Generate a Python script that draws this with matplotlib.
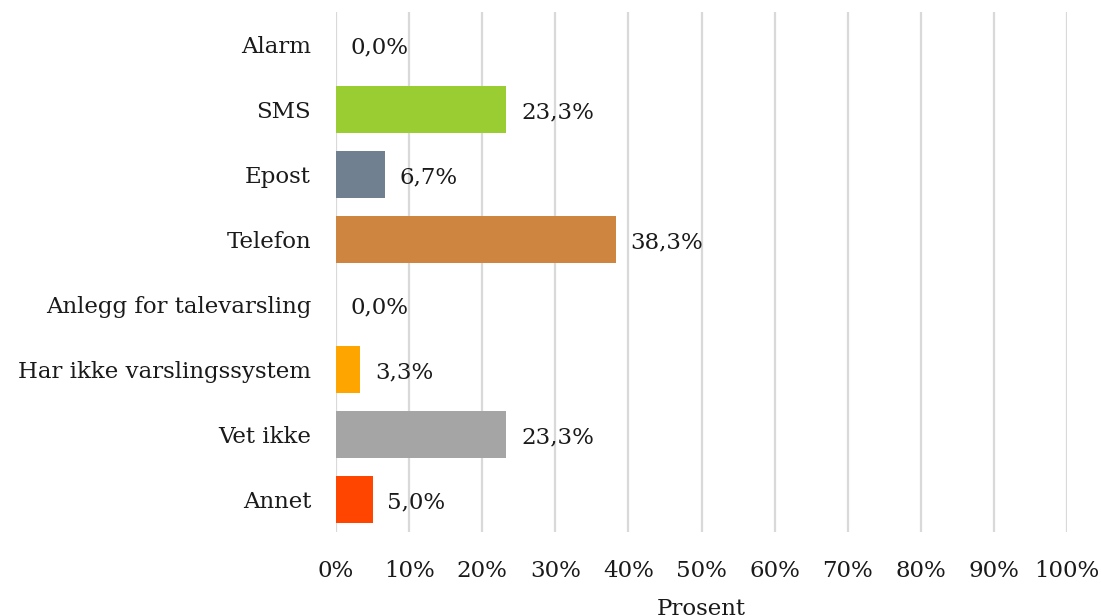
import matplotlib.pyplot as plt
from matplotlib.ticker import PercentFormatter

categories = ["Alarm", "SMS", "Epost", "Telefon", "Anlegg for talevarsling",
              "Har ikke varslingssystem", "Vet ikke", "Annet"]
values = [0.0, 23.3, 6.7, 38.3, 0.0, 3.3, 23.3, 5.0]
colors = ["#FFFFFF", "#9ACD32", "#708090", "#CD853F", "#FFFFFF",
          "#FFA500", "#A5A5A5", "#FF4500"]

plt.rcParams['font.family'] = ['DejaVu Serif']
fs = 16.5

fig = plt.figure(figsize=(11.01, 6.16), dpi=100)
ax = fig.add_axes([0.3052, 0.1364, 0.6639, 0.8442])

y = list(range(len(categories)))
ax.barh(y, values, height=0.72, color=colors, zorder=2)

for yi, v in zip(y, values):
    ax.text(v + 2.0, yi, f"{v:.1f}%".replace(".", ","), va="center_baseline", ha="left",
            fontsize=fs, color="#1a1a1a")

ax.set_xlim(0, 100)
ax.set_ylim(len(categories) - 0.5, -0.5)
ax.set_yticks(y)
ax.set_yticklabels(categories, fontsize=fs, color="#1a1a1a", va="center_baseline")
ax.set_xticks(range(0, 101, 10))
ax.xaxis.set_major_formatter(PercentFormatter(decimals=0))
ax.tick_params(axis="x", labelsize=fs, length=0, pad=20, colors="#1a1a1a")
ax.tick_params(axis="y", length=0, pad=18)
ax.grid(axis="x", color="#D9D9D9", linewidth=1.6, zorder=0)
for s in ax.spines.values():
    s.set_visible(False)
ax.set_xlabel("Prosent", fontsize=fs, color="#1a1a1a", labelpad=12)

fig.savefig("out.png", dpi=100)
